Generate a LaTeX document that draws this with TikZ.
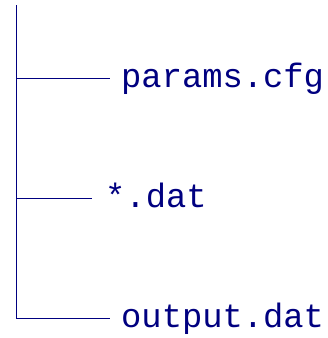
\documentclass[tikz,border=0pt]{standalone}
\usepackage{fontspec}
\setmonofont{Liberation Mono}
\usetikzlibrary{positioning}
\definecolor{treeblue}{RGB}{0,0,128}
\tikzset{
	file/.style={inner sep=0pt, anchor=base west, text=treeblue, font=\fontsize{33.8}{40}\selectfont\ttfamily},
	branch/.style={draw=treeblue, line width=1pt}
}

\begin{document}
\begin{tikzpicture}[x=1pt, y=-1pt]
	\useasboundingbox (0,0) rectangle (328,338);
	% --- root of the tree ---
	\coordinate (root) at (16,5);

	% files (placed on their baselines)
	\node[file] (cfg) at (121,87) {params.cfg};
	\node[file] (dat) at (105,207) {*.dat};
	\node[file] (out) at (121,327) {output.dat};

	% branches meet each file at mid x-height
	\draw[branch] (root) |- ([shift={(-11,-9)}]cfg.base west);
	\draw[branch] (root) |- ([shift={(-13,-9)}]dat.base west);
	\draw[branch] (root) |- ([shift={(-11,-9)}]out.base west);
\end{tikzpicture}
\end{document}
